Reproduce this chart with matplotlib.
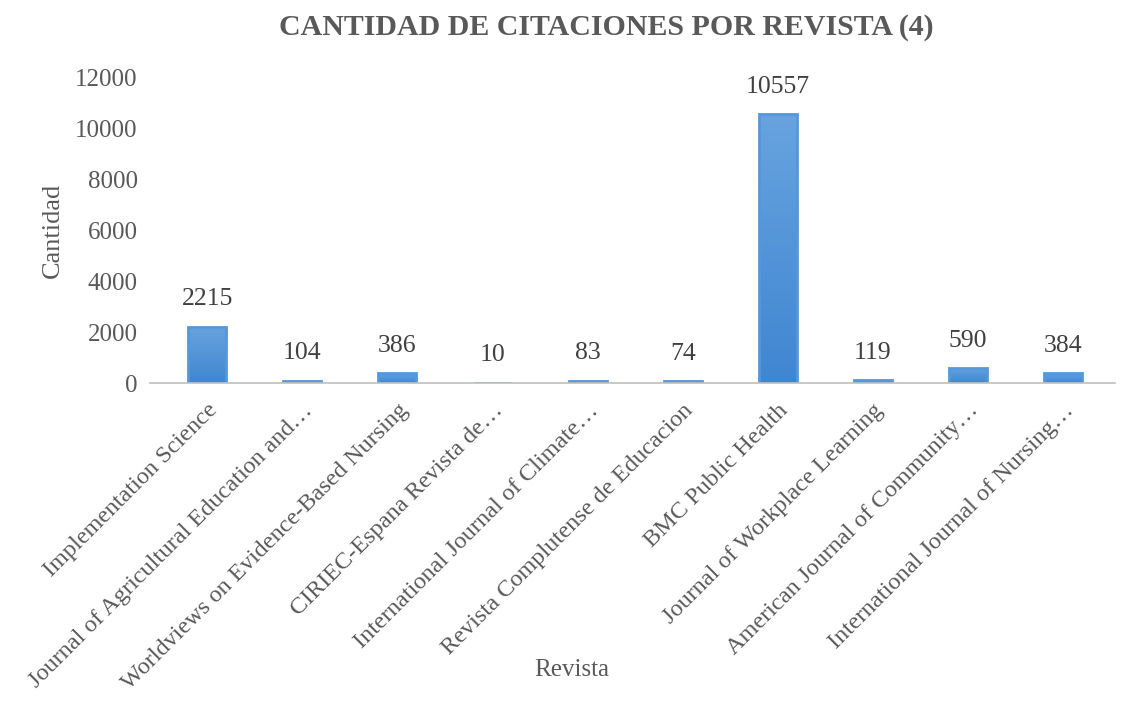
import numpy as np
import matplotlib.pyplot as plt
from matplotlib.colors import LinearSegmentedColormap

# ============================================================
# DATA
# ============================================================
revistas = [
    "Implementation Science",
    "Journal of Agricultural Education and\u2026",
    "Worldviews on Evidence-Based Nursing",
    "CIRIEC-Espana Revista de\u2026",
    "International Journal of Climate\u2026",
    "Revista Complutense de Educacion",
    "BMC Public Health",
    "Journal of Workplace Learning",
    "American Journal of Community\u2026",
    "International Journal of Nursing\u2026",
]
citaciones = [2215, 104, 386, 10, 83, 74, 10557, 119, 590, 384]
y_ticks = [0, 2000, 4000, 6000, 8000, 10000, 12000]

# ============================================================
# STYLE
# ============================================================
plt.rcParams['font.family'] = ['Liberation Serif', 'DejaVu Serif']
text_col = "#595959"
grad = LinearSegmentedColormap.from_list("bar", ["#3F86D1", "#68A3DF"])

fig = plt.figure(figsize=(11.21, 7.19), dpi=100)
ax = fig.add_axes([0.134, 0.467, 0.861, 0.425])

x = np.arange(len(revistas))
bars = ax.bar(x, citaciones, width=0.40, color="#4F90D9",
              edgecolor="none", zorder=3)

# vertical gradient clipped to each bar
g = np.linspace(0, 1, 256).reshape(-1, 1)
for b in bars:
    x0, w, h = b.get_x(), b.get_width(), b.get_height()
    im = ax.imshow(g, cmap=grad, origin="lower", aspect="auto",
                   extent=(x0, x0 + w, 0, max(h, 1)), zorder=4)
    im.set_clip_path(b)

# soft outline on top so the small bars stay visible
ax.bar(x, citaciones, width=0.40, fill=False, edgecolor="#5597DC",
       linewidth=2, zorder=4.5)

for xi, v in zip(x, citaciones):
    ax.annotate(str(v), (xi, v), xytext=(0, 12), textcoords="offset points",
                ha="center", va="bottom", fontsize=18.5, color="#404040")

ax.set_xlim(-0.6, len(revistas) - 0.45)
ax.set_ylim(0, 12000)
ax.set_yticks(y_ticks)
ax.set_yticklabels([str(t) for t in y_ticks], fontsize=18, color=text_col)
ax.set_xticks(x)
ax.set_xticklabels(revistas, rotation=45, ha="right", rotation_mode="anchor",
                   fontsize=17.5, color=text_col)
ax.tick_params(axis="both", length=0)
ax.tick_params(axis="y", pad=9)
ax.tick_params(axis="x", pad=12)

for s in ["top", "right", "left"]:
    ax.spines[s].set_visible(False)
ax.spines["bottom"].set_color("#BFBFBF")
ax.spines["bottom"].set_linewidth(1.2)
ax.spines["bottom"].set_zorder(5)

ax.set_ylabel("Cantidad", fontsize=19, color=text_col, labelpad=8)
fig.text(0.51, 0.068, "Revista", ha="center", va="center",
         fontsize=18, color=text_col)
fig.text(0.541, 0.962, "CANTIDAD DE CITACIONES POR REVISTA (4)",
         ha="center", va="center", fontsize=21.5, fontweight="bold",
         color=text_col)

fig.savefig("out.png", dpi=100)
